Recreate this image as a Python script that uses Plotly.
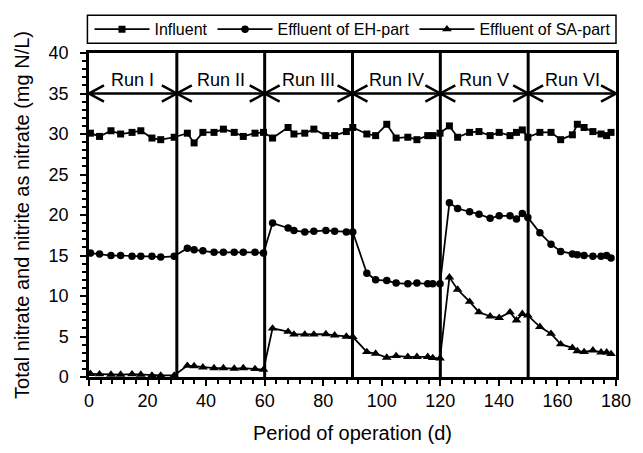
import plotly.graph_objects as go

# Sampling days over the 180-day operation (six runs of 30 d)
days = [0.5, 3.6, 7.5, 10.8, 14.7, 17.7, 21.5, 24.5, 29.1,
        33.6, 35.9, 38.9, 42.7, 45.9, 49.6, 52.7, 56.7, 59.6,
        62.7, 68.0, 70.0, 73.7, 76.8, 80.9, 83.9, 87.9, 90.1,
        94.9, 97.9, 101.7, 104.9, 108.9, 112.0, 115.7, 117.4, 119.9,
        123.1, 125.9, 130.0, 133.2, 137.0, 140.1, 143.8, 146.0, 148.0, 149.9,
        154.0, 157.8, 161.1, 165.1, 166.8, 169.1, 172.1, 174.9, 176.8, 178.3]

# Total nitrate + nitrite as nitrate (mg N/L)
influent = [30.1, 29.7, 30.4, 30.0, 30.2, 30.4, 29.5, 29.3, 29.6,
            30.1, 28.9, 30.2, 30.2, 30.6, 30.2, 29.7, 30.1, 30.2,
            29.5, 30.8, 30.0, 30.1, 30.6, 29.8, 29.8, 30.3, 30.8,
            30.0, 29.8, 31.2, 29.5, 29.6, 29.3, 29.8, 29.8, 30.1,
            31.0, 29.6, 30.2, 30.3, 29.8, 30.2, 29.8, 30.2, 30.5, 29.6,
            30.2, 30.2, 29.3, 29.9, 31.2, 30.8, 30.3, 30.0, 29.8, 30.2]

effluent_eh = [15.3, 15.2, 15.0, 15.0, 14.9, 14.9, 14.9, 14.8, 14.9,
               15.9, 15.7, 15.6, 15.4, 15.4, 15.4, 15.4, 15.4, 15.3,
               19.0, 18.4, 18.1, 17.9, 18.0, 18.1, 18.0, 17.9, 17.9,
               12.8, 12.0, 11.9, 11.6, 11.5, 11.6, 11.5, 11.5, 11.5,
               21.5, 20.8, 20.4, 20.1, 19.6, 19.9, 19.9, 19.5, 20.2, 19.7,
               17.8, 16.4, 15.5, 15.2, 15.1, 15.0, 14.9, 14.9, 15.0, 14.7]

effluent_sa = [0.4, 0.35, 0.3, 0.3, 0.35, 0.3, 0.2, 0.2, 0.2,
               1.4, 1.35, 1.2, 1.1, 1.1, 1.05, 1.1, 1.0, 0.9,
               6.0, 5.6, 5.25, 5.25, 5.25, 5.3, 5.15, 5.0, 4.95,
               3.1, 2.9, 2.4, 2.6, 2.5, 2.5, 2.5, 2.35, 2.3,
               12.3, 10.8, 9.3, 8.0, 7.5, 7.3, 8.0, 7.0, 7.8, 7.6,
               6.2, 5.35, 4.05, 3.6, 3.2, 3.1, 3.3, 3.05, 3.05, 2.85]

run_bounds = [0, 30, 60, 90, 120, 150, 180]
run_names = ["Run I", "Run II", "Run III", "Run IV", "Run V", "Run VI"]
arrow_level = 35
label_level = 36.7

W, H = 643, 453
M = dict(l=89, r=26, t=45, b=73)
X_RANGE = (0, 180)
Y_RANGE = (0, 40)
FONT = "Liberation Sans, Arial, sans-serif"

px_per_x = (W - M["l"] - M["r"]) / (X_RANGE[1] - X_RANGE[0])
px_per_y = (H - M["t"] - M["b"]) / (Y_RANGE[1] - Y_RANGE[0])

fig = go.Figure()

series = [
    ("Influent", influent, "square", 7),
    ("Effluent of EH-part", effluent_eh, "circle", 7.5),
    ("Effluent of SA-part", effluent_sa, "triangle-up", 8.5),
]
for name, vals, sym, size in series:
    fig.add_trace(go.Scatter(
        x=days, y=vals, name=name, mode="lines+markers",
        line=dict(color="black", width=1.75),
        marker=dict(symbol=sym, size=size, color="black"),
        cliponaxis=False,
    ))

shapes = []
# run separators
for b in run_bounds[1:-1]:
    shapes.append(dict(type="line", xref="x", yref="y", x0=b, x1=b,
                       y0=Y_RANGE[0], y1=Y_RANGE[1],
                       line=dict(color="black", width=3)))

# double-headed arrows spanning each run
head_dx = 15 / px_per_x
head_dy = 8.5 / px_per_y
annotations = []
for i, name in enumerate(run_names):
    a, b = run_bounds[i], run_bounds[i + 1]
    y = arrow_level
    shapes.append(dict(type="line", xref="x", yref="y", x0=a, x1=b, y0=y, y1=y,
                       line=dict(color="black", width=2.5)))
    shapes.append(dict(type="path", xref="x", yref="y",
                       path=f"M{a + head_dx},{y + head_dy} L{a},{y} L{a + head_dx},{y - head_dy}",
                       line=dict(color="black", width=2.5)))
    shapes.append(dict(type="path", xref="x", yref="y",
                       path=f"M{b - head_dx},{y + head_dy} L{b},{y} L{b - head_dx},{y - head_dy}",
                       line=dict(color="black", width=2.5)))
    annotations.append(dict(x=(a + b) / 2, y=label_level, xref="x", yref="y",
                            text=name, showarrow=False,
                            font=dict(size=18, color="black", family=FONT)))

# legend frame
plot_h = H - M["t"] - M["b"]
shapes.append(dict(type="rect", xref="paper", yref="paper",
                   x0=-0.003, x1=1.0, y0=1 + 10 / plot_h, y1=1 + 39 / plot_h,
                   line=dict(color="black", width=1.5), fillcolor="white"))

fig.update_layout(
    width=W, height=H, margin=M,
    paper_bgcolor="white", plot_bgcolor="white",
    font=dict(family=FONT, size=18, color="black"),
    shapes=shapes, annotations=annotations,
    showlegend=True,
    legend=dict(orientation="h", x=0.5, xanchor="center",
                y=1 + 24.5 / plot_h, yanchor="middle",
                bgcolor="rgba(0,0,0,0)", borderwidth=0,
                font=dict(size=16, family=FONT, color="black"),
                itemwidth=55, tracegroupgap=0),
    xaxis=dict(range=list(X_RANGE), dtick=20, tick0=0,
               showline=True, mirror=True, linecolor="black", linewidth=2.5,
               ticks="outside", ticklen=6, tickwidth=2, tickcolor="black",
               minor=dict(dtick=4, ticks="outside", ticklen=4, tickwidth=2,
                          tickcolor="black"),
               showgrid=False, zeroline=False,
               tickfont=dict(size=18),
               title=dict(text="Period of operation (d)", font=dict(size=20),
                          standoff=16)),
    yaxis=dict(range=list(Y_RANGE), dtick=5, tick0=0,
               showline=True, mirror=True, linecolor="black", linewidth=2.5,
               ticks="outside", ticklen=6, tickwidth=2, tickcolor="black",
               minor=dict(dtick=1, ticks="outside", ticklen=4, tickwidth=2,
                          tickcolor="black"),
               showgrid=False, zeroline=False,
               tickfont=dict(size=18), ticklabelstandoff=8,
               title=dict(text="Total nitrate and nitrite as nitrate (mg N/L)",
                          font=dict(size=20), standoff=14)),
)

fig.write_html("out.html")
